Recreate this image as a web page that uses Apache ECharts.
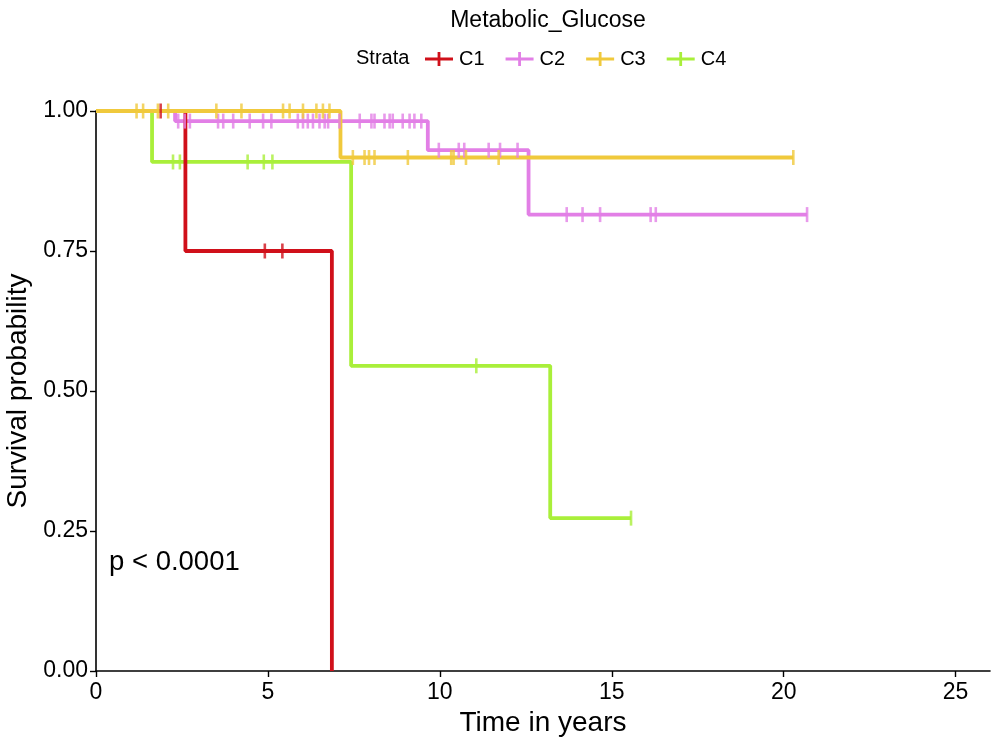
<!DOCTYPE html>
<html><head><meta charset="utf-8">
<script src="https://cdn.jsdelivr.net/npm/echarts@6/dist/echarts.min.js"></script>
<style>html,body{margin:0;padding:0;background:#fff}#c{width:997px;height:745px}</style>
</head><body><div id="c"></div>
<script>
const strata = ['C1','C2','C3','C4'];
const colors = ['#D0101A','#E27FE6','#F0C93C','#A9EF3A'];
// event times and survival after each event
const c1EventTimes = [2.60, 6.86];
const c1EventSurv  = [0.75, 0.00];
const c1Censor     = [1.88, 4.91, 5.42];
const c1End        = 6.86;

const c2EventTimes = [2.30, 9.65, 12.58];
const c2EventSurv  = [0.982, 0.930, 0.815];
const c2Censor     = [2.39, 2.58, 2.73, 3.55, 3.70, 3.99, 4.47, 4.86, 5.10, 5.87, 6.02, 6.16, 6.31, 6.50, 6.65, 6.75, 7.08,
                      7.67, 8.01, 8.10, 8.39, 8.54, 8.63, 8.92, 9.12, 9.26, 9.46,
                      9.97, 10.55, 10.71, 11.42, 11.75, 12.26,
                      13.69, 14.15, 14.66, 16.13, 16.28, 20.68];
const c2End        = 20.68;

const c3EventTimes = [7.11];
const c3EventSurv  = [0.917];
const c3Censor     = [1.18, 1.37, 1.80, 2.10, 3.50, 4.23, 5.44, 5.63, 6.02, 6.41, 6.60, 6.79,
                      7.47, 7.81, 7.94, 8.10, 9.07, 10.33, 10.40, 10.76, 11.71, 20.28];
const c3End        = 20.28;

const c4EventTimes = [1.63, 7.42, 13.21];
const c4EventSurv  = [0.909, 0.545, 0.273];
const c4Censor     = [2.24, 2.44, 4.41, 4.88, 5.13, 11.06, 15.56];
const c4End        = 15.56;

const xTicks = [0, 5, 10, 15, 20, 25];
const yTicks = [0, 0.25, 0.5, 0.75, 1.0];

const groups = [
  {ev: c1EventTimes, sv: c1EventSurv, cen: c1Censor, end: c1End},
  {ev: c2EventTimes, sv: c2EventSurv, cen: c2Censor, end: c2End},
  {ev: c3EventTimes, sv: c3EventSurv, cen: c3Censor, end: c3End},
  {ev: c4EventTimes, sv: c4EventSurv, cen: c4Censor, end: c4End}
];

function survAt(g, t){ let s = 1; for (let i=0;i<g.ev.length;i++){ if (g.ev[i] <= t) s = g.sv[i]; } return s; }

const series = [];
groups.forEach((g, i) => {
  const pts = [[0, 1]];
  g.ev.forEach((t, k) => pts.push([t, g.sv[k]]));
  if (g.end > g.ev[g.ev.length-1]) pts.push([g.end, survAt(g, g.end)]);
  series.push({
    name: strata[i], type: 'line', step: 'end', data: pts, showSymbol: false, symbol: 'none',
    clip: false, z: 2, lineStyle: {color: colors[i], width: 3.8}, itemStyle: {color: colors[i]},
    animation: false, silent: true
  });
  series.push({
    name: strata[i], type: 'scatter', data: g.cen.map(t => [t, survAt(g, t)]),
    symbol: 'rect', symbolSize: [2.6, 15], clip: false, z: 2,
    itemStyle: {color: colors[i]}, animation: false, silent: true
  });
});
// draw order: C2 bottom, C4, C1, C3 top
const order = [1, 3, 0, 2];
const orderedSeries = [];
order.forEach(i => { orderedSeries.push(series[2*i], series[2*i+1]); });

const plusIcon = 'path://M0,5.5 L28,5.5 L28,8.5 L0,8.5 Z M12.6,0 L15.4,0 L15.4,14 L12.6,14 Z';

const chart = echarts.init(document.getElementById('c'), null, {renderer: 'canvas'});
chart.setOption({
  backgroundColor: '#fff',
  animation: false,
  textStyle: {fontFamily: 'Liberation Sans, Arial, sans-serif'},
  title: {
    text: 'Metabolic_Glucose', left: 543, top: 4, textAlign: 'center',
    textStyle: {fontSize: 23, fontWeight: 'normal', color: '#000', fontFamily: 'Liberation Sans'}
  },
  legend: {
    data: strata.map((s, i) => ({name: s, icon: plusIcon, itemStyle: {color: colors[i]}})),
    left: 420, top: 44, itemWidth: 30, itemHeight: 14, itemGap: 21,
    textStyle: {fontSize: 20, color: '#000', fontFamily: 'Liberation Sans'},
    selectedMode: false
  },
  graphic: [
    {type: 'text', left: 356, top: 48, style: {text: 'Strata', fontSize: 20, fill: '#000', fontFamily: 'Liberation Sans'}},
    {type: 'text', left: 109, top: 548, style: {text: 'p < 0.0001', fontSize: 27.5, fill: '#000', fontFamily: 'Liberation Sans'}}
  ],
  grid: {left: 96, right: 7, top: 111, bottom: 74, containLabel: false, outerBoundsMode: 'none'},
  xAxis: {
    type: 'value', min: 0, max: 26, interval: 5,
    name: 'Time in years', nameLocation: 'middle', nameGap: 35,
    nameTextStyle: {fontSize: 28, color: '#000', fontFamily: 'Liberation Sans'},
    axisLine: {show: true, onZero: false, lineStyle: {color: '#000', width: 1.6}},
    axisTick: {show: true, length: 6, lineStyle: {color: '#000', width: 1.4}, customValues: xTicks},
    axisLabel: {fontSize: 23, color: '#000', margin: 10, customValues: xTicks, fontFamily: 'Liberation Sans'},
    splitLine: {show: false}
  },
  yAxis: {
    type: 'value', min: 0, max: 1, interval: 0.25,
    name: 'Survival probability', nameLocation: 'middle', nameGap: 60, nameRotate: 90,
    nameTextStyle: {fontSize: 28, color: '#000', fontFamily: 'Liberation Sans'},
    axisLine: {show: true, onZero: false, lineStyle: {color: '#000', width: 1.6}},
    axisTick: {show: true, length: 6, lineStyle: {color: '#000', width: 1.4}, customValues: yTicks},
    axisLabel: {fontSize: 23, color: '#000', margin: 8, customValues: yTicks, formatter: v => v.toFixed(2), fontFamily: 'Liberation Sans'},
    splitLine: {show: false}
  },
  series: orderedSeries
});
</script>
</body></html>
